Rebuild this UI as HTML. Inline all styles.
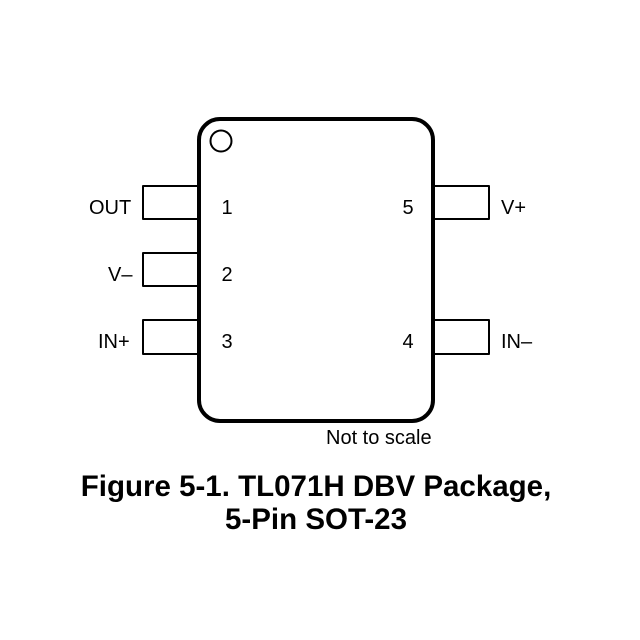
<!DOCTYPE html>
<html><head><style>
html,body{margin:0;padding:0;background:#fff;}
svg{display:block;}
text{font-family:"Liberation Sans",Arial,sans-serif;fill:#000;}
</style></head><body>
<svg width="640" height="640" viewBox="0 0 640 640" xmlns="http://www.w3.org/2000/svg">
<g fill="none" stroke="#000" stroke-width="2" stroke-linejoin="round">
<path d="M198 186 H143 V219 H198"/>
<path d="M198 253 H143 V286 H198"/>
<path d="M198 320 H143 V354 H198"/>
<path d="M434 186 H489 V219 H434"/>
<path d="M434 320 H489 V354 H434"/>
</g>
<rect x="199" y="119" width="234" height="302" rx="21" ry="21" fill="none" stroke="#000" stroke-width="4"/>
<circle cx="221" cy="141" r="10.5" fill="none" stroke="#000" stroke-width="2"/>
<g font-size="20">
<text x="89" y="214">OUT</text>
<text x="108" y="281">V–</text>
<text x="98" y="348">IN+</text>
<text x="501" y="214">V+</text>
<text x="501" y="348">IN–</text>
<text x="227" y="214" text-anchor="middle">1</text>
<text x="227" y="281" text-anchor="middle">2</text>
<text x="227" y="348" text-anchor="middle">3</text>
<text x="408" y="214" text-anchor="middle">5</text>
<text x="408" y="348" text-anchor="middle">4</text>
<text x="326" y="444">Not to scale</text>
</g>
<g font-size="29.5" font-weight="bold" text-anchor="middle">
<text x="316" y="496">Figure 5-1. TL071H DBV Package,</text>
<text x="316" y="529">5-Pin SOT-23</text>
</g>
</svg>
</body></html>
